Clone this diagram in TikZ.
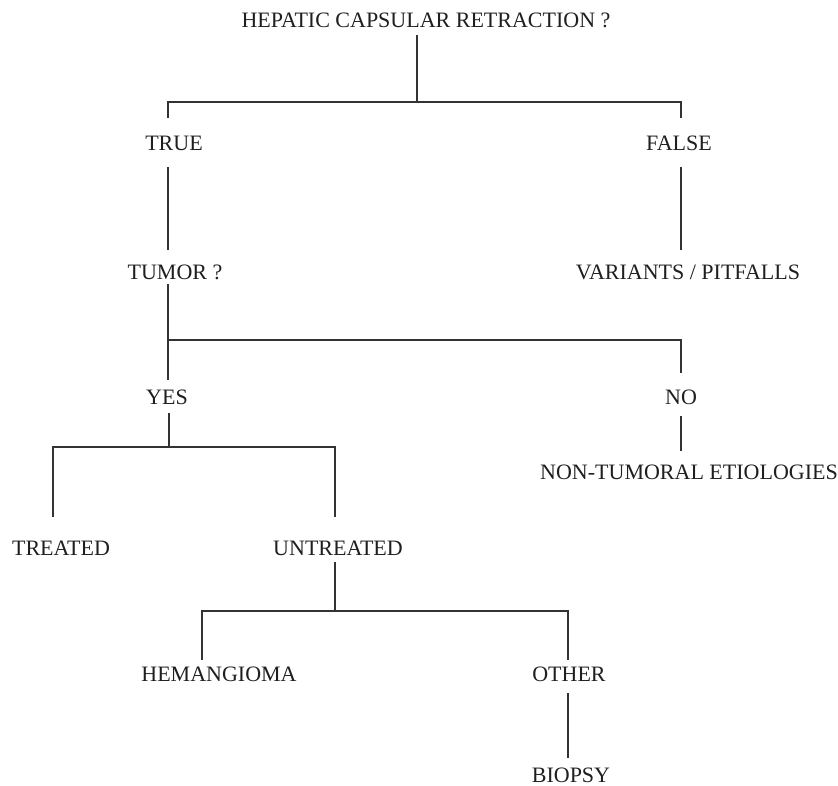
\documentclass[tikz,border=0pt]{standalone}
\usepackage{fontspec}
\setmainfont{Liberation Serif}
\begin{document}
\begin{tikzpicture}[x=1pt,y=-1pt,
  lbl/.style={anchor=base,inner sep=0pt,font=\fontsize{22}{26}\selectfont,text=black!88},
  conn/.style={draw=black!80,line width=1.2pt}]
\useasboundingbox (0,0) rectangle (838,786);
% labels
\node[lbl] (title) at (426,27.3) {HEPATIC CAPSULAR RETRACTION ?};
\node[lbl] (true) at (174,150.3) {TRUE};
\node[lbl] (false) at (679,150.3) {FALSE};
\node[lbl] (tumor) at (175,279.3) {TUMOR ?};
\node[lbl] (variants) at (688,279.3) {VARIANTS / PITFALLS};
\node[lbl] (yes) at (167,404.3) {YES};
\node[lbl] (no) at (681,404.3) {NO};
\node[lbl] (nontum) at (689,479.3) {NON-TUMORAL ETIOLOGIES};
\node[lbl] (treated) at (61,555.3) {TREATED};
\node[lbl] (untreated) at (338,555.3) {UNTREATED};
\node[lbl] (hemangioma) at (219,681.3) {HEMANGIOMA};
\node[lbl] (other) at (569,681.3) {OTHER};
\node[lbl] (biopsy) at (571,782.3) {BIOPSY};
% connector points
\coordinate (a0) at (417,35);  \coordinate (a1) at (417,102);
\coordinate (a2) at (168,118); \coordinate (a3) at (681,118);
\coordinate (b0) at (168,167); \coordinate (b1) at (168,250);
\coordinate (c0) at (681,167); \coordinate (c1) at (681,250);
\coordinate (d0) at (168,284); \coordinate (d1) at (168,380);
\coordinate (d2) at (168,340); \coordinate (d3) at (681,373);
\coordinate (e0) at (169,413); \coordinate (e1) at (169,447);
\coordinate (e2) at (53,517);  \coordinate (e3) at (335,517);
\coordinate (f0) at (681,416); \coordinate (f1) at (681,451);
\coordinate (g0) at (335,562); \coordinate (g1) at (335,611);
\coordinate (g2) at (202,660); \coordinate (g3) at (568,660);
\coordinate (h0) at (568,693); \coordinate (h1) at (568,758);
% connectors
\draw[conn] (a0) -- (a1);
\draw[conn] (a2) -- (a2 |- a1) -- (a3 |- a1) -- (a3);
\draw[conn] (b0) -- (b1);
\draw[conn] (c0) -- (c1);
\draw[conn] (d0) -- (d1);
\draw[conn] (d2) -- (d3 |- d2) -- (d3);
\draw[conn] (e0) -- (e1);
\draw[conn] (e2) -- (e2 |- e1) -- (e3 |- e1) -- (e3);
\draw[conn] (f0) -- (f1);
\draw[conn] (g0) -- (g1);
\draw[conn] (g2) -- (g2 |- g1) -- (g3 |- g1) -- (g3);
\draw[conn] (h0) -- (h1);
\end{tikzpicture}
\end{document}
